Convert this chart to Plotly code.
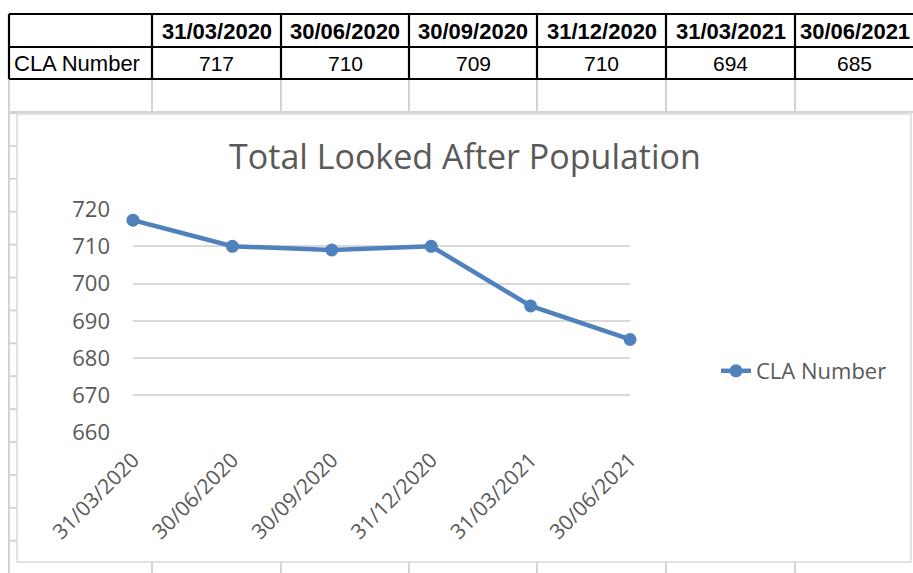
import plotly.graph_objects as go

# quarter-end dates and Children Looked After counts
dates = ["31/03/2020", "30/06/2020", "30/09/2020", "31/12/2020", "31/03/2021", "30/06/2021"]
cla_number = [717, 710, 709, 710, 694, 685]
row_label = "CLA Number"
y_ticks = [660, 670, 680, 690, 700, 710, 720]

W, H = 913, 573
BLUE = "#4F81BD"
GREY_TEXT = "#595959"
SHEET_GRID = "#D4D4D4"


def px(x):
    return x / W


def py(y):
    return 1 - y / H


def line(x0, y0, x1, y1, color, width):
    return dict(type="line", xref="paper", yref="paper",
                x0=px(x0), y0=py(y0), x1=px(x1), y1=py(y1),
                line=dict(color=color, width=width), layer="below")


fig = go.Figure()
fig.add_trace(go.Scatter(
    x=dates,
    y=cla_number,
    mode="lines+markers",
    name=row_label,
    line=dict(color=BLUE, width=4.5),
    marker=dict(color=BLUE, size=13),
    cliponaxis=False,
))

# spreadsheet cells around the chart
col_edges = [9, 152, 281, 409, 537, 666, 795]
shapes = []
# light grid: empty row under the table, row marks on the left, cells below chart
for x in col_edges:
    shapes.append(line(x, 79, x, 113, SHEET_GRID, 2))
    shapes.append(line(x, 562, x, 573, SHEET_GRID, 2))
shapes.append(line(9, 112, W, 112, SHEET_GRID, 2))
shapes.append(line(9, 79, 9, 573, SHEET_GRID, 2))
for k in range(14):
    yy = 113 + k * 32.9
    shapes.append(line(9, yy, 17, yy, SHEET_GRID, 2))
# chart area border
shapes.append(dict(type="rect", xref="paper", yref="paper",
                   x0=px(17), y0=py(562), x1=px(911), y1=py(114),
                   line=dict(color="#D9D9D9", width=1.5), fillcolor="white",
                   layer="below"))
# black table borders
for yy in [14, 47, 79]:
    shapes.append(line(9, yy, W + 5, yy, "black", 2.2))
for x in col_edges:
    shapes.append(line(x, 14, x, 79, "black", 2.2))

annotations = []
annotations.append(dict(x=px(12), y=py(63.5), xref="paper", yref="paper",
                        text=row_label, showarrow=False, xanchor="left",
                        yanchor="middle",
                        font=dict(family="Liberation Sans, Arial", size=22, color="black")))
for i, (d, v) in enumerate(zip(dates, cla_number)):
    cx = (col_edges[i + 1] + (col_edges[i + 2] if i + 2 < len(col_edges) else 914)) / 2
    annotations.append(dict(x=px(cx), y=py(31), xref="paper", yref="paper",
                            text="<b>" + d + "</b>", showarrow=False,
                            xanchor="center", yanchor="middle",
                            font=dict(family="Liberation Sans, Arial", size=22, color="black")))
    annotations.append(dict(x=px(cx), y=py(63.5), xref="paper", yref="paper",
                            text=str(v), showarrow=False,
                            xanchor="center", yanchor="middle",
                            font=dict(family="Liberation Sans, Arial", size=21, color="black")))

fig.update_layout(
    width=W,
    height=H,
    margin=dict(l=0, r=0, t=0, b=0, pad=0, autoexpand=False),
    paper_bgcolor="white",
    plot_bgcolor="rgba(0,0,0,0)",
    shapes=shapes,
    annotations=annotations,
    title=dict(text="Total Looked After Population", x=px(465), y=py(157),
               xanchor="center", yanchor="middle",
               font=dict(family="Open Sans", size=34, color=GREY_TEXT)),
    legend=dict(x=px(716), y=py(371), xanchor="left", yanchor="middle",
                font=dict(family="Open Sans", size=22, color=GREY_TEXT),
                bgcolor="rgba(0,0,0,0)"),
    showlegend=True,
    xaxis=dict(domain=[px(133), px(630)], range=[0, 5], type="category",
               showgrid=False, showline=False, zeroline=False, automargin=False,
               tickangle=-45, ticks="", ticklabelstandoff=10,
               tickfont=dict(family="Open Sans", size=21, color=GREY_TEXT)),
    yaxis=dict(domain=[py(432.7), py(209)], range=[660, 720], automargin=False,
               tickvals=y_ticks, showgrid=True, gridcolor="#D9D9D9", gridwidth=1.5,
               showline=False, zeroline=False, ticks="", ticklabelstandoff=22,
               tickfont=dict(family="Open Sans", size=22, color=GREY_TEXT)),
)

fig.write_html("out.html", config={"displayModeBar": False},
               post_script="document.body.style.margin = '0';")
